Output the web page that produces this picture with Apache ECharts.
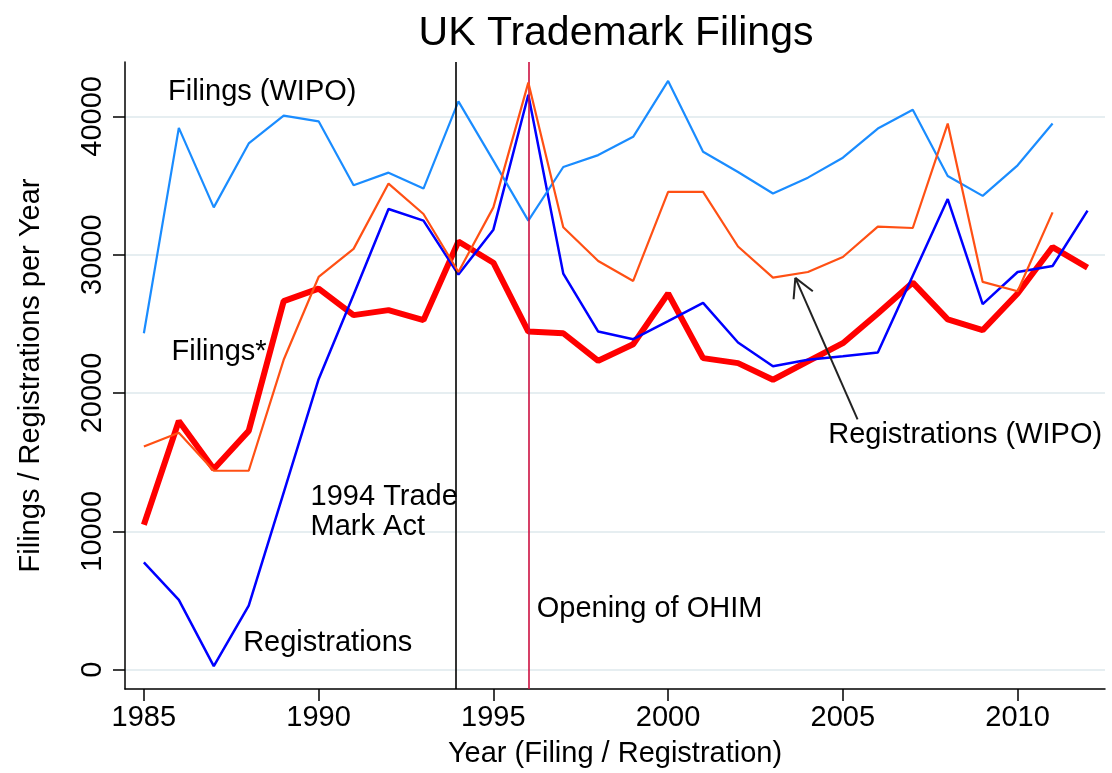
<!DOCTYPE html>
<html>
<head>
<meta charset="utf-8">
<script src="https://cdn.jsdelivr.net/npm/echarts@6/dist/echarts.min.js"></script>
<style>html,body{margin:0;padding:0;background:#fff;overflow:hidden}#c{width:1112px;height:773px}</style>
</head>
<body>
<div id="c"></div>
<script>
const years = [1985,1986,1987,1988,1989,1990,1991,1992,1993,1994,1995,1996,1997,1998,1999,2000,2001,2002,2003,2004,2005,2006,2007,2008,2009,2010,2011,2012];
const filings = [10470,17970,14500,17260,26640,27550,25630,25990,25270,30950,29420,24440,24320,22330,23530,27190,22520,22160,20960,22280,23600,25750,27980,25320,24550,27190,30550,29060];
const registrations = [7750,5040,250,4630,12800,21000,27100,33300,32460,28560,31810,41560,28630,24440,23890,25200,26520,23650,21930,22400,22660,22930,28480,34020,26420,28750,29180,33180];
const filingsWipo = [24320,39170,33420,38040,40050,39640,35020,35930,34780,41080,36800,32460,36340,37200,38520,42560,37440,35980,34420,35570,37010,39120,40480,35690,34250,36460,39480,null];
const registrationsWipo = [16130,17130,14380,14380,22400,28390,30420,35140,32940,28750,33420,42440,31980,29540,28100,34540,34540,30590,28340,28750,29830,32030,31930,39480,28030,27360,33060,null];
const xTicks = [1985,1990,1995,2000,2005,2010];
const yTicks = [0,10000,20000,30000,40000];
const events = [{year:1993.92, color:'#000000'},{year:1996, color:'#cc1040'}];
const labels = [
  {text:'Filings (WIPO)', x:1985.69, y:41770},
  {text:'Filings*', x:1985.79, y:22950},
  {text:'1994 Trade\nMark Act', x:1989.77, y:11420},
  {text:'Registrations', x:1987.84, y:1900},
  {text:'Opening of OHIM', x:1996.24, y:4350},
  {text:'Registrations (WIPO)', x:2004.58, y:16990}
];
const arrow = [[2005.42,18090],[2003.64,28320]];
const arrowHead = [[[2003.64,28320],[2003.59,26780]],[[2003.64,28320],[2004.14,27360]]];

const FONT = "'Liberation Sans', Arial, Helvetica, sans-serif";
const pairs = arr => years.map((y,i)=>[y, arr[i]]);

const chart = echarts.init(document.getElementById('c'), null, {renderer:'canvas'});
chart.setOption({
  animation:false,
  backgroundColor:'#ffffff',
  textStyle:{fontFamily:FONT},
  graphic:[
    {type:'text', x:616, y:34, style:{text:'UK Trademark Filings', font:'41px '+FONT, fill:'#000', textAlign:'center', textVerticalAlign:'middle'}}
  ],
  grid:{left:125, right:7, top:62, bottom:80},
  xAxis:{
    type:'value', min:1984.46, max:2012.5,
    name:'Year (Filing / Registration)', nameLocation:'middle', nameGap:50,
    nameTextStyle:{fontSize:29, color:'#000', fontFamily:FONT},
    axisLine:{show:true, onZero:false, lineStyle:{color:'#000', width:1.5}},
    axisTick:{show:true, length:12, lineStyle:{color:'#000', width:1.5}, customValues:xTicks},
    axisLabel:{fontSize:29, color:'#000', margin:14, fontFamily:FONT, customValues:xTicks, formatter:v=>String(v)},
    splitLine:{show:false}
  },
  yAxis:{
    type:'value', min:-1400, max:43930,
    name:'Filings / Registrations per Year', nameLocation:'middle', nameGap:80,
    nameTextStyle:{fontSize:29, color:'#000', fontFamily:FONT},
    axisLine:{show:true, onZero:false, lineStyle:{color:'#000', width:1.5}},
    axisTick:{show:true, length:12, lineStyle:{color:'#000', width:1.5}, customValues:yTicks},
    axisLabel:{fontSize:29, color:'#000', margin:18, rotate:90, fontFamily:FONT, customValues:yTicks, formatter:v=>String(v)},
    splitLine:{show:true, lineStyle:{color:'#e6eef1', width:2}}
  },
  series:[
    {name:'Filings*', type:'line', data:pairs(filings), showSymbol:false, symbol:'none',
     lineStyle:{color:'#ff0000', width:6}, itemStyle:{color:'#ff0000'}, z:2,
     markPoint:{silent:true, symbol:'circle', symbolSize:0, itemStyle:{color:'rgba(0,0,0,0)'},
       label:{show:true, position:'right', distance:0, color:'#000', fontSize:29, lineHeight:30, fontFamily:FONT, formatter:p=>p.name},
       data:labels.map(l=>({name:l.text, coord:[l.x,l.y]}))}
    },
    {name:'Registrations', type:'line', data:pairs(registrations), showSymbol:false, symbol:'none',
     lineStyle:{color:'#0000ff', width:2.5}, itemStyle:{color:'#0000ff'}, z:3},
    {name:'Filings (WIPO)', type:'line', data:pairs(filingsWipo), showSymbol:false, symbol:'none',
     lineStyle:{color:'#1a8cff', width:2.2}, itemStyle:{color:'#1a8cff'}, z:4},
    {name:'Registrations (WIPO)', type:'line', data:pairs(registrationsWipo), showSymbol:false, symbol:'none',
     lineStyle:{color:'#ff5014', width:2.2}, itemStyle:{color:'#ff5014'}, z:5},
    {name:'annot', type:'line', data:[], z:6,
     markLine:{silent:true, symbol:['none','none'], label:{show:false},
       data:[
         ...events.map(e=>({xAxis:e.year, lineStyle:{color:e.color, width:1.6, type:'solid'}})),
         [{coord:arrow[0], lineStyle:{color:'#222', width:2, type:'solid'}},{coord:arrow[1]}],
         ...arrowHead.map(s=>[{coord:s[0], lineStyle:{color:'#222', width:2, type:'solid'}},{coord:s[1]}])
       ]}
    }
  ]
});
</script>
</body>
</html>
